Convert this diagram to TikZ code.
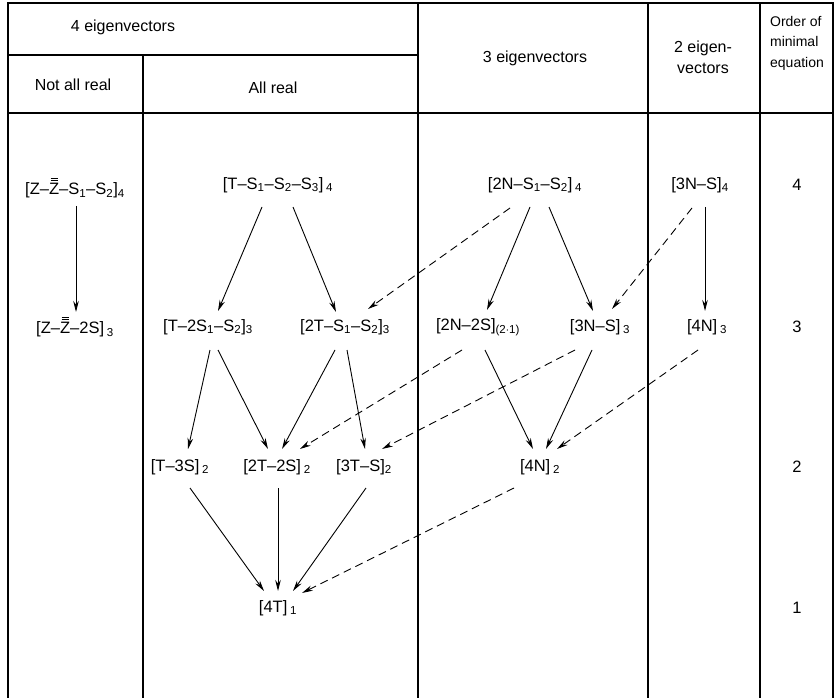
\documentclass[tikz,border=0pt]{standalone}
\usepackage{fontspec}
\setmainfont{Liberation Sans}
\usetikzlibrary{arrows.meta}
\newcommand\sbs[1]{\textsubscript{#1}}
\newcommand\zbb{\leavevmode\rlap{\kern0.1em\raisebox{0.79em}{\rule{0.42em}{0.06em}}}\rlap{\kern0.1em\raisebox{0.93em}{\rule{0.42em}{0.06em}}}Z}
\begin{document}
\begin{tikzpicture}[x=1pt,y=-1pt,
  lab/.style={font=\fontsize{16.5}{19}\selectfont, inner sep=0pt},
  hd/.style={font=\fontsize{16}{21}\selectfont, align=center, inner sep=0pt},
  gridline/.style={line width=1.2pt},
  arr/.style={-{Stealth[length=11pt,width=5.5pt]}, line width=0.9pt},
  darr/.style={arr, dash pattern=on 8pt off 5pt}]
\useasboundingbox (0,0) rectangle (836,698);
% table
\draw[gridline] (8,698) -- (8,3) -- (833,3) -- (833,698);
\draw[gridline] (8,55) -- (418,55);
\draw[gridline] (8,113) -- (833,113);
\draw[gridline] (143,55) -- (143,698);
\draw[gridline] (418,3) -- (418,698);
\draw[gridline] (648,3) -- (648,698);
\draw[gridline] (760,3) -- (760,698);
% headers
\node[hd] (h4) at (123,27) {4 eigenvectors};
\node[hd] (hn) at (73,85) {Not all real};
\node[hd] (ha) at (273,88) {All real};
\node[hd] (h3) at (535,58) {3 eigenvectors};
\node[hd] (h2) at (703,57) {2 eigen-\\vectors};
\node[hd, font=\fontsize{14}{20.5}\selectfont, align=left] (ho) at (797,43) {Order of\\minimal\\equation};
% nodes row 4
\node[lab] (z4) at (75,188) {[Z--\zbb--S\sbs1--S\sbs2]\sbs4};
\node[lab] (t4) at (278,185) {[T--S\sbs1--S\sbs2--S\sbs3]\,\sbs4};
\node[lab] (n4) at (535,185) {[2N--S\sbs1--S\sbs2]\,\sbs4};
\node[lab] (m4) at (700,185) {[3N--S]\sbs4};
% row 3
\node[lab] (z3) at (75,327) {[Z--\zbb--2S]\,\sbs3};
\node[lab] (a3) at (208,327) {[T--2S\sbs1--S\sbs2]\sbs3};
\node[lab] (b3) at (345,327) {[2T--S\sbs1--S\sbs2]\sbs3};
\node[lab] (c3) at (478,327) {[2N--2S]\sbs{(2$\cdot$1)}};
\node[lab] (d3) at (600,327) {[3N--S]\,\sbs3};
\node[lab] (e3) at (707,327) {[4N]\,\sbs3};
% row 2
\node[lab] (a2) at (180,467) {[T--3S]\,\sbs2};
\node[lab] (b2) at (277,467) {[2T--2S]\,\sbs2};
\node[lab] (c2) at (364,467) {[3T--S]\sbs2};
\node[lab] (d2) at (540,467) {[4N]\,\sbs2};
% row 1
\node[lab] (a1) at (278,608) {[4T]\,\sbs1};
% order column
\node[lab] (o4) at (797,185) {4};
\node[lab] (o3) at (797,327) {3};
\node[lab] (o2) at (797,467) {2};
\node[lab] (o1) at (797,608) {1};
% solid arrows
\draw[arr] ([shift={(1,18)}]z4.center) -- ([shift={(1,-15)}]z3.center);
\draw[arr] ([shift={(-16,22)}]t4.center) -- ([shift={(10,-16)}]a3.center);
\draw[arr] ([shift={(15,22)}]t4.center) -- ([shift={(-9,-15)}]b3.center);
\draw[arr] ([shift={(-5,22)}]n4.center) -- ([shift={(9,-17)}]c3.center);
\draw[arr] ([shift={(14,22)}]n4.center) -- ([shift={(-7,-16)}]d3.center);
\draw[arr] ([shift={(5,22)}]m4.center) -- ([shift={(-2,-16)}]e3.center);
\draw[arr] ([shift={(2,23)}]a3.center) -- ([shift={(8,-18)}]a2.center);
\draw[arr] ([shift={(10,23)}]a3.center) -- ([shift={(-9,-18)}]b2.center);
\draw[arr] ([shift={(-10,23)}]b3.center) -- ([shift={(5,-18)}]b2.center);
\draw[arr] ([shift={(2,23)}]b3.center) -- ([shift={(1,-18)}]c2.center);
\draw[arr] ([shift={(7,23)}]c3.center) -- ([shift={(-7,-18)}]d2.center);
\draw[arr] ([shift={(-8,23)}]d3.center) -- ([shift={(6,-18)}]d2.center);
\draw[arr] ([shift={(10,21)}]a2.center) -- ([shift={(-14,-17)}]a1.center);
\draw[arr] ([shift={(1,21)}]b2.center) -- ([shift={(0,-17)}]a1.center);
\draw[arr] ([shift={(2,21)}]c2.center) -- ([shift={(15,-17)}]a1.center);
% dashed arrows
\draw[darr] ([shift={(-25,23)}]n4.center) -- ([shift={(23,-18)}]b3.center);
\draw[darr] ([shift={(-8,23)}]m4.center) -- ([shift={(12,-18)}]d3.center);
\draw[darr] ([shift={(-16,23)}]c3.center) -- ([shift={(23,-18)}]b2.center);
\draw[darr] ([shift={(-25,23)}]d3.center) -- ([shift={(18,-18)}]c2.center);
\draw[darr] ([shift={(-9,23)}]e3.center) -- ([shift={(17,-18)}]d2.center);
\draw[darr] ([shift={(-26,21)}]d2.center) -- ([shift={(24,-15)}]a1.center);
\end{tikzpicture}
\end{document}
